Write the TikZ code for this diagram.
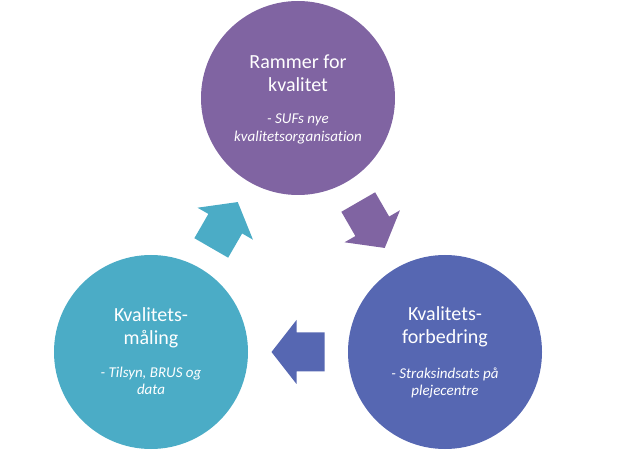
\documentclass[tikz,border=0pt]{standalone}
\usepackage{fontspec}
\setmainfont{Carlito}[Ligatures=NoCommon]
\definecolor{rammerpurple}{RGB}{128,100,162}
\definecolor{forbblue}{RGB}{86,103,178}
\definecolor{maalteal}{RGB}{75,172,198}
\begin{document}
\begin{tikzpicture}[x=1pt, y=1pt,
  bubble/.style={circle, inner sep=0pt, minimum size=194pt},
  title/.style={align=center, text=white, font=\fontsize{20}{23}\selectfont},
  sub/.style={align=center, text=white, font=\fontsize{15}{17.5}\selectfont\itshape},
  cyclearrow/.style={insert path={(-26.5,-19.5) -- (1.5,-19.5) -- (1.5,-32) -- (26.5,0) -- (1.5,32) -- (1.5,19.5) -- (-26.5,19.5) -- cycle}}]
\useasboundingbox (0,0) rectangle (618,463);
% circles
\node[bubble, fill=rammerpurple] (rammer) at (298,365) {};
\node[bubble, fill=forbblue] (forb) at (445,111) {};
\node[bubble, fill=maalteal] (maal) at (151,111) {};
% texts
\node[title] (rammer-t) at ([yshift=25]rammer) {Rammer for\\kvalitet};
\node[sub] (rammer-s) at ([yshift=-31]rammer) {- SUFs nye\\kvalitetsorganisation};
\node[title] (forb-t) at ([yshift=25]forb) {Kvalitets-\\forbedring};
\node[sub] (forb-s) at ([yshift=-31]forb) {- Straksindsats på\\plejecentre};
\node[title] (maal-t) at ([yshift=24]maal) {Kvalitets-\\måling};
\node[sub] (maal-s) at ([yshift=-29]maal) {- Tilsyn, BRUS og\\data};
% arrows between the circles
\fill[rammerpurple, shift={(371.5,238)}, rotate=-60] [cyclearrow];
\fill[forbblue, shift={(298,111)}, rotate=180] [cyclearrow];
\fill[maalteal, shift={(224.5,238)}, rotate=60] [cyclearrow];
\end{tikzpicture}
\end{document}
